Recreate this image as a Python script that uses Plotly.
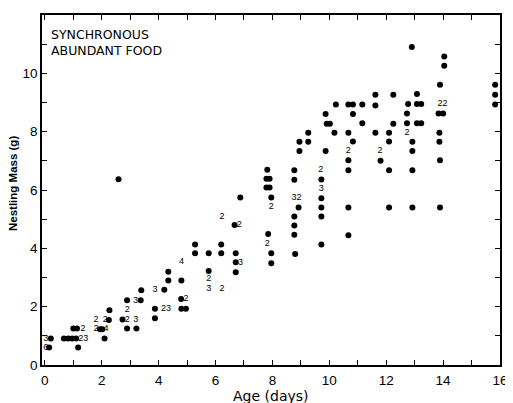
import plotly.graph_objects as go

# Single nestlings (dots): age (days) and mass (g)
age_dots = [0.21, 0.15, 0.67, 0.82, 0.96, 1.10, 1.00, 1.13, 1.17, 2.25, 1.94, 2.02, 2.27, 2.10,
            2.73, 2.89, 2.89, 3.22, 3.37, 3.39, 4.20, 4.34, 4.34, 4.80, 4.79, 4.80, 4.96, 3.87, 3.87,
            2.59,
            5.28, 6.20, 5.28, 5.76, 6.20, 6.71, 6.71, 6.71, 5.76, 6.67, 6.87,
            7.82, 7.79, 7.90, 7.79, 7.90, 7.96, 7.85, 7.96, 7.96,
            8.77, 8.77, 8.92, 8.77, 8.77, 8.77, 8.80, 8.95, 8.95, 9.26, 9.26,
            9.72, 9.72, 9.72, 9.72, 9.72, 9.87, 9.87, 9.91, 10.02, 10.18, 10.23,
            10.67, 10.83, 10.83, 10.67, 10.83, 10.67, 10.67, 10.67, 10.67,
            11.16, 11.16, 11.62, 11.62, 11.62, 11.80,
            12.25, 12.25, 12.10, 12.10, 12.10, 12.10,
            12.90, 12.77, 12.73, 12.73, 13.08, 13.08, 13.23, 13.08, 13.23, 12.92, 12.92, 12.92, 12.92,
            14.04, 14.04, 13.89, 13.84, 14.00, 13.87, 13.87, 13.89, 13.89,
            15.83, 15.83, 15.83]
mass_dots = [0.91, 0.60, 0.91, 0.91, 0.91, 0.91, 1.25, 1.25, 0.60, 1.54, 1.23, 1.23, 1.88, 0.91,
             1.56, 2.22, 1.25, 1.25, 2.22, 2.56, 2.58, 2.90, 3.20, 2.90, 2.26, 1.93, 1.93, 1.60, 1.93,
             6.37,
             4.13, 4.13, 3.83, 3.83, 3.83, 3.83, 3.52, 3.18, 3.22, 4.80, 5.74,
             6.69, 6.39, 6.39, 6.09, 6.09, 5.74, 4.49, 3.83, 3.49,
             6.68, 6.35, 5.40, 5.09, 4.78, 4.47, 3.81, 7.65, 7.34, 7.65, 7.96,
             6.36, 5.72, 5.40, 5.09, 4.13, 7.34, 8.61, 8.27, 8.27, 7.96, 8.93,
             8.93, 8.93, 8.61, 7.96, 7.66, 7.02, 6.68, 5.40, 4.45,
             8.93, 8.29, 9.27, 8.90, 7.96, 7.00,
             9.27, 8.27, 7.96, 7.66, 6.68, 5.40,
             10.90, 8.95, 8.62, 8.29, 9.29, 8.95, 8.95, 8.29, 8.29, 7.65, 7.34, 6.68, 5.40,
             10.58, 10.26, 9.61, 8.62, 8.62, 7.96, 7.65, 7.02, 5.40,
             9.61, 9.27, 8.93]

# Numbers of coincident nestlings
label_age = [0.03, 0.03, 1.35, 1.34, 1.80, 1.80, 2.15, 2.12, 2.90, 2.90, 3.20, 3.19, 3.87, 4.80,
             4.96, 4.26, 5.76, 5.76, 6.23, 6.23, 6.83, 6.88, 7.96, 7.82, 8.85, 9.70, 9.72,
             10.67, 11.78, 12.73, 13.98]
label_mass = [0.91, 0.60, 0.91, 1.25, 1.54, 1.23, 1.23, 1.54, 1.56, 1.88, 1.56, 2.22, 2.58, 3.53,
              2.26, 1.93, 2.95, 2.60, 2.60, 5.09, 4.80, 3.52, 5.43, 4.15, 5.72, 6.68, 6.06,
              7.34, 7.34, 7.96, 8.95]
label_text = ["3", "6", "23", "2", "2", "2", "4", "2", "2", "2", "3", "3", "3", "4",
              "2", "23", "2", "3", "2", "2", "2", "3", "2", "2", "32", "2", "3",
              "2", "2", "2", "22"]

x_tickvals = list(range(0, 17))
x_ticktext = ["0", "", "2", "", "4", "", "6", "", "8", "", "10", "", "12", "", "14", "", "16"]
y_tickvals = list(range(0, 13))
y_ticktext = ["0", "", "2", "", "4", "", "6", "", "8", "", "10", "", "12"]

FONT = "Liberation Sans, Arial, sans-serif"
WIDE = "DejaVu Sans, Verdana, sans-serif"

fig = go.Figure()
fig.add_trace(go.Scatter(
    x=age_dots, y=mass_dots, mode="markers",
    marker=dict(color="black", size=6, line=dict(width=0)),
    hoverinfo="skip", showlegend=False))
fig.add_trace(go.Scatter(
    x=label_age, y=label_mass, mode="text", text=label_text,
    textfont=dict(family=FONT, size=9, color="black"),
    textposition="middle center", hoverinfo="skip", showlegend=False))

axis_common = dict(showgrid=False, zeroline=False, showline=True, linecolor="black",
                   linewidth=1.5, mirror="ticks", ticks="inside", ticklen=5,
                   tickcolor="black", tickwidth=1.2,
                   tickfont=dict(family=FONT, size=13.5, color="black"))

fig.update_layout(
    width=505, height=395,
    margin=dict(l=34, r=8, t=5, b=38),
    paper_bgcolor="white", plot_bgcolor="white",
    xaxis=dict(range=[-0.1, 16.0], tickmode="array", tickvals=x_tickvals,
               ticktext=x_ticktext, ticklabelstandoff=2, **axis_common),
    yaxis=dict(range=[0, 12], tickmode="array", tickvals=y_tickvals,
               ticktext=y_ticktext, **axis_common),
    annotations=[
        dict(text="SYNCHRONOUS<br>ABUNDANT FOOD", xref="paper", yref="paper",
             x=0, y=1, xanchor="left", yanchor="top", xshift=7, yshift=-10,
             align="left", showarrow=False,
             font=dict(family=WIDE, size=12.5, color="black")),
        dict(text="Age (days)", xref="paper", yref="paper", x=0.5, y=0,
             xanchor="center", yanchor="top", yshift=-21, showarrow=False,
             font=dict(family=WIDE, size=14, color="black")),
        dict(text="<b>Nestling Mass (g)</b>", xref="paper", yref="paper", x=0, y=0.5,
             xanchor="right", yanchor="middle", xshift=-21, yshift=6, textangle=-90,
             showarrow=False, font=dict(family=FONT, size=11.5, color="black")),
    ],
)

fig.write_html("out.html")
